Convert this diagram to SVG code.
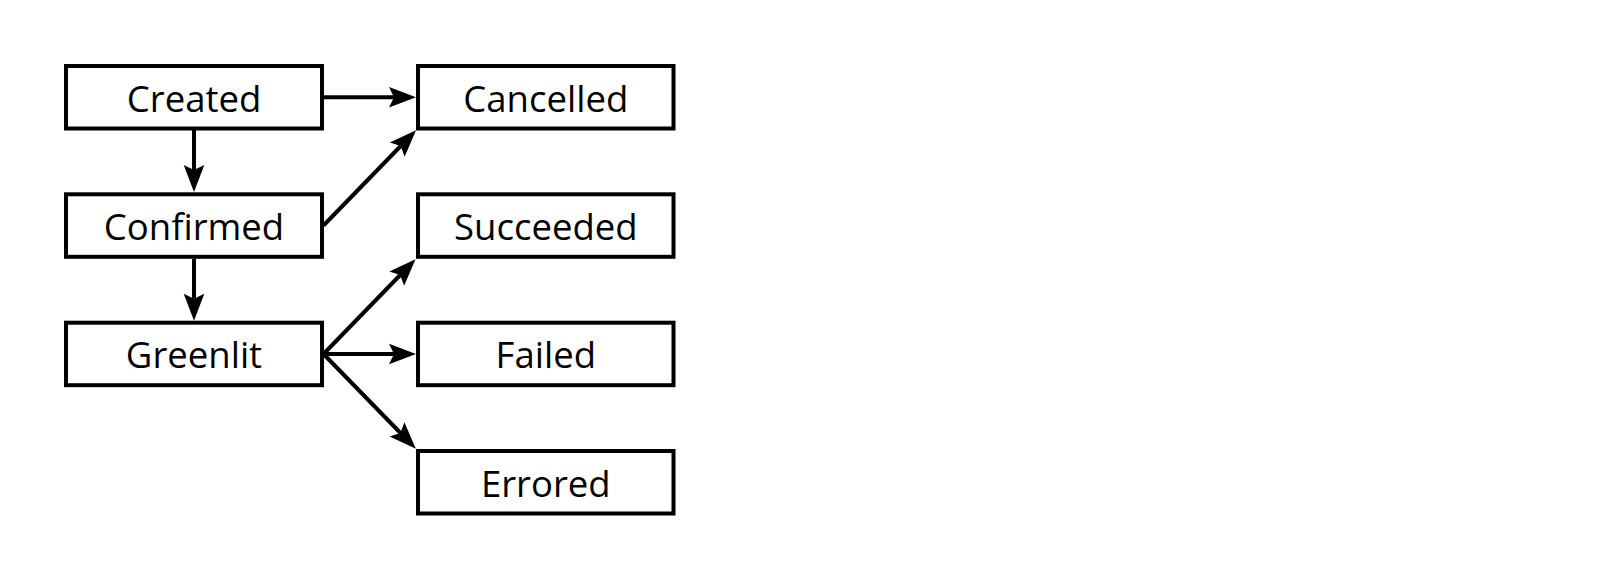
<svg xmlns="http://www.w3.org/2000/svg" width="1600" height="580" viewBox="0 0 1600 580">
<style>
.box{fill:#fff;stroke:#000;stroke-width:4}
.lbl{font-family:"Open Sans","Noto Sans",sans-serif;font-size:36.5px;fill:#000;text-anchor:middle}
.edge{stroke:#000;stroke-width:4;fill:none}
</style>
<defs>
<marker id="ah" markerUnits="userSpaceOnUse" markerWidth="32" markerHeight="26" viewBox="-29 -13 32 26" refX="-22" refY="0" orient="auto">
<path d="M0,0 L-27,-10.3 L-22,0 L-27,10.3 Z" fill="#000"/>
</marker>
</defs>
<rect width="1600" height="580" fill="#fff"/>
<g id="edges">
<line class="edge" x1="194" y1="130" x2="194" y2="170" marker-end="url(#ah)"/>
<line class="edge" x1="324" y1="97.3" x2="394" y2="97.3" marker-end="url(#ah)"/>
<line class="edge" x1="323.5" y1="225.5" x2="400.7" y2="146" marker-end="url(#ah)"/>
<line class="edge" x1="194" y1="258.5" x2="194" y2="298.7" marker-end="url(#ah)"/>
<line class="edge" x1="323.5" y1="354" x2="400.2" y2="275" marker-end="url(#ah)"/>
<line class="edge" x1="323.5" y1="354" x2="394" y2="354" marker-end="url(#ah)"/>
<line class="edge" x1="323.5" y1="354" x2="400.5" y2="433" marker-end="url(#ah)"/>
</g>
<g id="created"><rect class="box" x="66" y="66" width="256" height="62.5"/><text class="lbl" x="194" y="111.5">Created</text></g>
<g id="confirmed"><rect class="box" x="66" y="194.3" width="256" height="62.5"/><text class="lbl" x="194" y="239.8">Confirmed</text></g>
<g id="greenlit"><rect class="box" x="66" y="322.7" width="256" height="62.5"/><text class="lbl" x="194" y="368.2">Greenlit</text></g>
<g id="cancelled"><rect class="box" x="418" y="66" width="255.5" height="62.5"/><text class="lbl" x="545.8" y="111.5">Cancelled</text></g>
<g id="succeeded"><rect class="box" x="418" y="194.3" width="255.5" height="62.5"/><text class="lbl" x="545.8" y="239.8">Succeeded</text></g>
<g id="failed"><rect class="box" x="418" y="322.7" width="255.5" height="62.5"/><text class="lbl" x="545.8" y="368.2">Failed</text></g>
<g id="errored"><rect class="box" x="418" y="451" width="255.5" height="62.5"/><text class="lbl" x="545.8" y="496.5">Errored</text></g>
</svg>
